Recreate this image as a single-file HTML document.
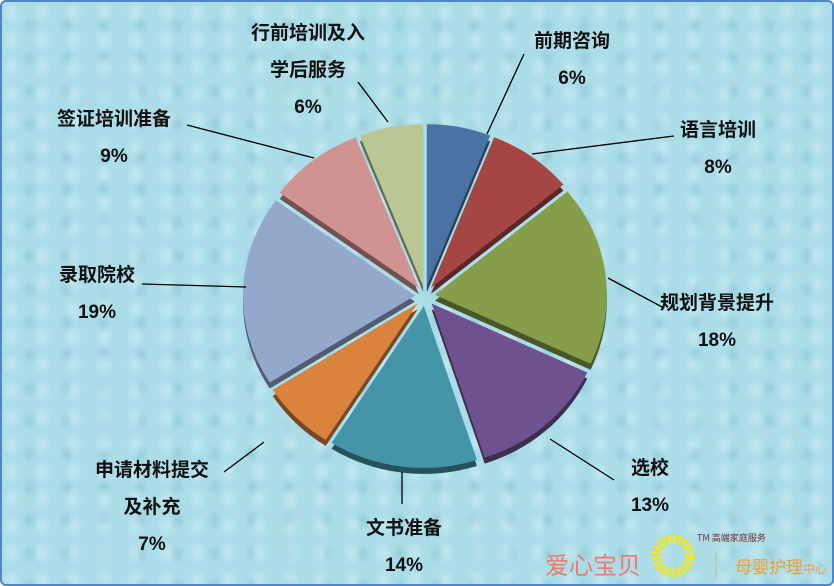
<!DOCTYPE html>
<html><head><meta charset="utf-8">
<style>
html,body{margin:0;padding:0}
body{width:834px;height:586px;overflow:hidden;font-family:"Liberation Sans","Noto Sans CJK SC",sans-serif}
#wrap{position:absolute;left:0;top:0;width:830px;height:582px;border:2px solid #4f86c9;border-radius:6px;
background-color:#aadde8;
background-image:radial-gradient(ellipse 14px 18px at 30% 40%,rgba(255,255,255,.3),rgba(255,255,255,0) 70%),
radial-gradient(ellipse 12px 15px at 75% 70%,rgba(90,160,180,.25),rgba(90,160,180,0) 70%);
background-size:31px 27px,37px 33px;overflow:hidden}
svg{position:absolute;left:0;top:0}
</style></head><body>
<div id="wrap">
<svg id="chart" width="834" height="586"></svg>
</div>
<script>
const categories=["前期咨询","语言培训","规划背景提升","选校","文书准备","申请材料提交及补充","录取院校","签证培训准备","行前培训及入学后服务"];
const values=[6,8,18,13,14,7,19,9,6];
const percentLabels=["6%","8%","18%","13%","14%","7%","19%","9%","6%"];
const colors=["#4a72a4","#a64644","#869e4a","#6e5290","#4595a8","#d9833e","#94a8cc","#d09392","#b8c794"];
const labelLines=[["前期咨询","6%"],["语言培训","8%"],["规划背景提升","18%"],["选校","13%"],["文书准备","14%"],["申请材料提交","及补充","7%"],["录取院校","19%"],["签证培训准备","9%"],["行前培训及入","学后服务","6%"]];
const labelPos=[[570,38],[716,127],[715,300],[648,465],[402,525],[150,467],[95,272],[112,116],[306,30]];
const leaders=[[[485,132],[522,52]],[[530,152],[672,134]],[[606,276],[662,306]],[[548,437],[612,478]],[[400,470],[400,502]],[[262,440],[222,470]],[[244,285],[140,282]],[[312,156],[185,123]],[[386,120],[356,80]]];
const svg=document.getElementById('chart');const NS='http://www.w3.org/2000/svg';
const cx=423,cy=294,R=172,RY=162,ex=10;
const total=values.reduce((a,b)=>a+b,0);
function pt(a,ox,oy){return [ox+R*Math.sin(a),oy-RY*Math.cos(a)];}
let acc=0;
values.forEach((v,i)=>{
 const a0=acc/total*2*Math.PI, a1=(acc+v)/total*2*Math.PI; acc+=v;
 const m=(a0+a1)/2, ox=cx+ex*Math.sin(m), oy=cy-ex*Math.cos(m);
 const large=(a1-a0)>Math.PI?1:0;
 const mk=(dx,dy)=>{const p0=pt(a0,ox+dx,oy+dy),p1=pt(a1,ox+dx,oy+dy);return `M${ox+dx},${oy+dy}L${p0[0]},${p0[1]}A${R},${RY} 0 ${large} 1 ${p1[0]},${p1[1]}Z`;};
 const sh=document.createElementNS(NS,'path');sh.setAttribute('d',mk(0,6));sh.setAttribute('fill',colors[i]);sh.setAttribute('style','filter:brightness(0.55)');
 
 
 svg.appendChild(sh);
 const p=document.createElementNS(NS,'path');p.setAttribute('d',mk(0,0));p.setAttribute('fill',colors[i]);
 
 
 svg.appendChild(p);
});
leaders.forEach((l,i)=>{
 const ln=document.createElementNS(NS,'line');ln.setAttribute('x1',l[0][0]);ln.setAttribute('y1',l[0][1]);ln.setAttribute('x2',l[1][0]);ln.setAttribute('y2',l[1][1]);ln.setAttribute('stroke','#000');ln.setAttribute('stroke-width','1.3');
 
 
 svg.appendChild(ln);
});
labelLines.forEach((lines,i)=>{
 lines.forEach((t,j)=>{
  const tx=document.createElementNS(NS,'text');tx.setAttribute('x',labelPos[i][0]);tx.setAttribute('y',labelPos[i][1]+j*37+7);
  tx.setAttribute('text-anchor','middle');tx.setAttribute('font-size','19');tx.setAttribute('font-weight','bold');tx.setAttribute('fill','#111');
  tx.textContent=t;
  
  
  svg.appendChild(tx);
 });
});
</script>
<svg width="834" height="586" style="pointer-events:none">
<text x="545" y="574" font-size="24" fill="#f07a6a" font-family="Noto Sans CJK SC,sans-serif">爱心宝贝</text>
<circle cx="673" cy="556" r="17" fill="none" stroke="#f3e81a" stroke-width="9" stroke-dasharray="3 2"/>
<text x="697" y="541" font-size="9" fill="#7a3030" font-family="Noto Sans CJK SC,sans-serif">TM 高端家庭服务</text>
<line x1="716" y1="553" x2="716" y2="578" stroke="#e8b070"/>
<text x="735" y="573" font-size="17" fill="#f0a030" font-family="Noto Sans CJK SC,sans-serif">母婴护理<tspan font-size="12">中心</tspan></text>
</svg>
</body></html>
